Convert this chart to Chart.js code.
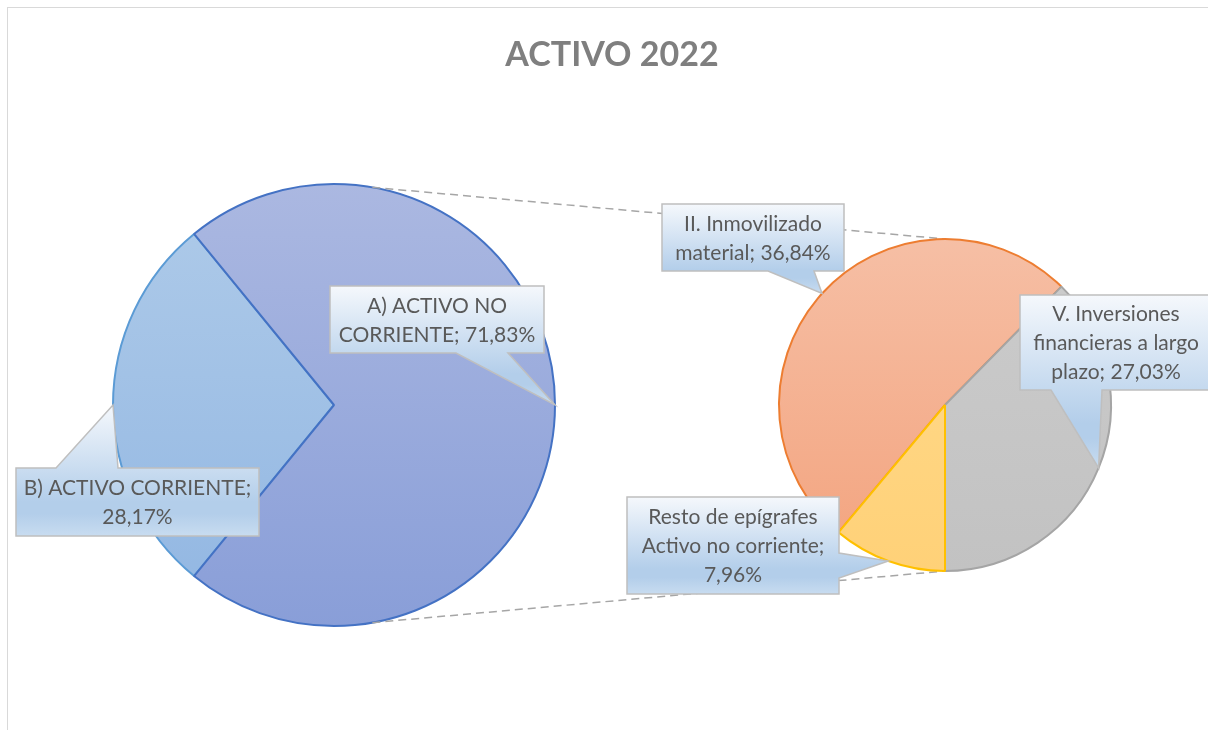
<!DOCTYPE html>
<html lang="es">
<head>
    <meta charset="UTF-8">
    <script src="https://cdn.jsdelivr.net/npm/chart.js@4.4.1/dist/chart.umd.min.js"></script>
    <title>ACTIVO 2022</title>
    <style>
        html, body {
            margin: 0;
            background: white;
            overflow: hidden;
            width: 1208px;
            height: 730px;
        }
        #frame {
            position: absolute;
            left: 7px;
            top: 7px;
            width: 1208px;
            height: 730px;
            border: 1px solid #d9d9d9;
            box-sizing: border-box;
        }
        #frame canvas {
            position: absolute;
            left: 0;
            top: 0;
        }
    </style>
</head>
<body>
    <div id="frame">
        <canvas id="mainPie" width="1208" height="730"></canvas>
        <canvas id="subPie" width="1208" height="730"></canvas>
    </div>
<script>
    var chartTitle = 'ACTIVO 2022';

    // primary pie (B drawn first so A's border sits on top)
    var mainLabels = ['B) ACTIVO CORRIENTE', 'A) ACTIVO NO CORRIENTE'];
    var mainValues = [28.17, 71.83];

    // breakdown of "A) ACTIVO NO CORRIENTE"
    var subLabels = ['II. Inmovilizado material', 'V. Inversiones financieras a largo plazo', 'Resto de epígrafes Activo no corriente'];
    var subValues = [36.84, 27.03, 7.96];

    var mainColors = [['#afcbe9', '#91b6e2'], ['#abb8e1', '#899ed8']];
    var mainBorders = ['#5b9bd5', '#4472c4'];
    var subColors = [['#f6bfa5', '#f3a37e'], ['#cccccc', '#c2c2c2'], ['#ffdb8e', '#ffd178']];
    var subBorders = ['#ed7d31', '#a5a5a5', '#ffc000'];

    var FONT = 'Lato, "Open Sans", sans-serif';

    // callout boxes, in canvas pixels, same order as the data
    var mainCallouts = [
        {x: 8, y: 460, w: 243, h: 68, side: 'top', b0: 48, b1: 110},
        {x: 322, y: 278, w: 214, h: 67, side: 'bottom', b0: 448, b1: 500}
    ];
    var subCallouts = [
        {x: 654, y: 196, w: 182, h: 67, side: 'bottom', b0: 760, b1: 806},
        {x: 1012, y: 287, w: 192, h: 95, side: 'bottom', b0: 1043, b1: 1094},
        {x: 619, y: 489, w: 212, h: 97, side: 'right', b0: 545, b1: 570}
    ];

    function sum(a) { return a.reduce((x, y) => x + y, 0); }
    function pct(v) { return v.toFixed(2).replace('.', ',') + '%'; }

    function gradientFill(colors) {
        return function(context) {
            var stops = colors[context.dataIndex];
            var area = context.chart.chartArea;
            if (!area || !stops) return '#cccccc';
            var g = context.chart.ctx.createLinearGradient(0, area.top, 0, area.bottom);
            g.addColorStop(0, stops[0]);
            g.addColorStop(1, stops[1]);
            return g;
        };
    }

    function wrapText(ctx, text, maxWidth) {
        var words = text.split(' ');
        var lines = [];
        var line = '';
        words.forEach(w => {
            var test = line ? line + ' ' + w : w;
            if (line && ctx.measureText(test).width > maxWidth) {
                lines.push(line);
                line = w;
            } else {
                line = test;
            }
        });
        if (line) lines.push(line);
        return lines;
    }

    function drawCallout(ctx, box, tip, text) {
        var l = box.x, t = box.y, r = box.x + box.w, b = box.y + box.h;
        ctx.save();
        ctx.beginPath();
        ctx.moveTo(l, t);
        if (box.side == 'top') {
            ctx.lineTo(box.b0, t); ctx.lineTo(tip.x, tip.y); ctx.lineTo(box.b1, t);
        }
        ctx.lineTo(r, t);
        if (box.side == 'right') {
            ctx.lineTo(r, box.b0); ctx.lineTo(tip.x, tip.y); ctx.lineTo(r, box.b1);
        }
        ctx.lineTo(r, b);
        if (box.side == 'bottom') {
            ctx.lineTo(box.b1, b); ctx.lineTo(tip.x, tip.y); ctx.lineTo(box.b0, b);
        }
        ctx.lineTo(l, b);
        ctx.closePath();

        var top = Math.min(t, tip.y), bottom = Math.max(b, tip.y);
        var g = ctx.createLinearGradient(0, top, 0, bottom);
        g.addColorStop(0, '#f5f8fc');
        g.addColorStop(0.74, '#b3ceea');
        g.addColorStop(0.83, '#b3ceea');
        g.addColorStop(1, '#c8dcf0');
        ctx.fillStyle = g;
        ctx.fill();
        ctx.lineWidth = 1.5;
        ctx.strokeStyle = '#bfbfbf';
        ctx.stroke();

        ctx.font = '21px ' + FONT;
        ctx.fillStyle = '#595959';
        ctx.textAlign = 'center';
        ctx.textBaseline = 'alphabetic';
        var lines = wrapText(ctx, text, box.w - 10);
        var lh = 29;
        var cy = (t + b) / 2;
        lines.forEach((line, i) => {
            ctx.fillText(line, (l + r) / 2, cy - (lines.length - 1) / 2 * lh + i * lh + 7.5);
        });
        ctx.restore();
    }

    function arcTip(arc) {
        var p = arc.getProps(['x', 'y', 'startAngle', 'endAngle', 'outerRadius'], true);
        var mid = (p.startAngle + p.endAngle) / 2;
        return {x: p.x + Math.cos(mid) * p.outerRadius, y: p.y + Math.sin(mid) * p.outerRadius};
    }

    function calloutPlugin(labels, values, boxes) {
        return {
            id: 'callouts',
            afterDraw(chart) {
                var arcs = chart.getDatasetMeta(0).data;
                arcs.forEach((arc, i) => {
                    drawCallout(chart.ctx, boxes[i], arcTip(arc), labels[i] + '; ' + pct(values[i]));
                });
            }
        };
    }

    var commonOptions = {
        responsive: false,
        animation: false,
        plugins: {
            legend: {display: false},
            tooltip: {enabled: false},
            title: {display: false}
        }
    };

    var mainTotal = sum(mainValues);
    var mainChart = new Chart(document.getElementById('mainPie').getContext('2d'), {
        type: 'pie',
        data: {
            labels: mainLabels,
            datasets: [{
                data: mainValues,
                backgroundColor: gradientFill(mainColors),
                borderColor: mainBorders,
                borderWidth: 2,
                hoverOffset: 0
            }]
        },
        options: Object.assign({}, commonOptions, {
            // centre the breakdown slice on 3 o'clock
            rotation: 270 - mainValues[0] / mainTotal * 180,
            layout: {padding: {left: 104, top: 175, right: 660, bottom: 111}}
        }),
        plugins: [calloutPlugin(mainLabels, mainValues, mainCallouts)]
    });

    var subTotal = sum(subValues);
    var subChart = new Chart(document.getElementById('subPie').getContext('2d'), {
        type: 'pie',
        data: {
            labels: subLabels,
            datasets: [{
                data: subValues,
                backgroundColor: gradientFill(subColors),
                borderColor: subBorders,
                borderWidth: 2,
                hoverOffset: 0
            }]
        },
        options: Object.assign({}, commonOptions, {
            rotation: 180 - (subValues[0] + subValues[1]) / subTotal * 360,
            layout: {padding: {left: 770, top: 230, right: 104, bottom: 166}}
        }),
        plugins: [
            {
                id: 'connectors',
                beforeDatasetsDraw(chart) {
                    var ctx = chart.ctx;
                    var a = mainChart.getDatasetMeta(0).data[0];
                    var b = chart.getDatasetMeta(0).data[0];
                    var ang = 80 * Math.PI / 180;
                    ctx.save();
                    ctx.setLineDash([8, 5]);
                    ctx.lineWidth = 1.5;
                    ctx.strokeStyle = '#a6a6a6';
                    ctx.beginPath();
                    ctx.moveTo(a.x + Math.cos(ang) * a.outerRadius, a.y - Math.sin(ang) * a.outerRadius);
                    ctx.lineTo(b.x, b.y - b.outerRadius);
                    ctx.moveTo(a.x + Math.cos(ang) * a.outerRadius, a.y + Math.sin(ang) * a.outerRadius);
                    ctx.lineTo(b.x, b.y + b.outerRadius);
                    ctx.stroke();
                    ctx.restore();

                    ctx.save();
                    ctx.font = 'bold 34px ' + FONT;
                    ctx.fillStyle = '#7f7f7f';
                    ctx.textAlign = 'center';
                    ctx.textBaseline = 'alphabetic';
                    ctx.fillText(chartTitle, chart.width / 2, 58);
                    ctx.restore();
                }
            },
            calloutPlugin(subLabels, subValues, subCallouts)
        ]
    });
</script>
</body>
</html>
